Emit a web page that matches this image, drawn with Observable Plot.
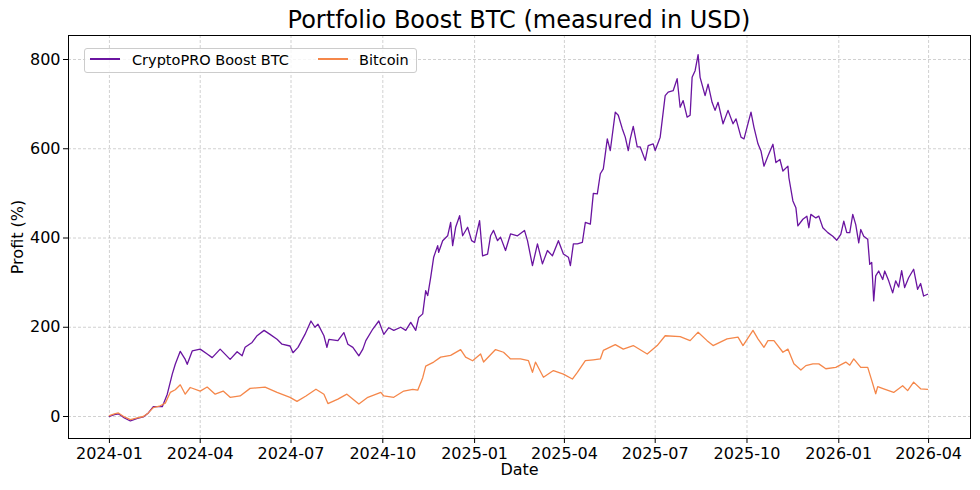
<!DOCTYPE html>
<html>
<head>
<meta charset="utf-8">
<script src="https://cdn.jsdelivr.net/npm/d3@7"></script>
<script src="https://cdn.jsdelivr.net/npm/@observablehq/plot@0.6"></script>
<style>
  html, body { margin: 0; padding: 0; background: #fff; }
  #wrap { position: relative; width: 980px; height: 490px; font-family: "DejaVu Sans", sans-serif; }
  #title { box-sizing: content-box; margin-left: 68px; width: 902px; height: 27px; line-height: 27px; padding-top: 7px;
           text-align: center; font-size: 24px; color: #000; white-space: nowrap; }
  #legend { position: absolute; left: 84px; top: 48px; width: 331px; height: 23px; border: 1px solid #cccccc;
            border-radius: 3px; background: rgba(255,255,255,0.8); font-size: 14.5px; }
  .sw { position: absolute; top: 9px; width: 30px; height: 1.5px; }
  .lt { position: absolute; top: 2px; line-height: 18px; white-space: nowrap; color: #000; }
</style>
</head>
<body>
<div id="wrap">
  <div id="title"></div>
  <div id="chart"></div>
  <div id="legend"></div>
</div>
<script>
const titleText = "Portfolio Boost BTC (measured in USD)";
const seriesNames = ["CryptoPRO Boost BTC", "Bitcoin"];
const seriesColors = ["#6a14a0", "#f5874a"];
const xLabel = "Date";
const yLabel = "Profit (%)";

const boostDates = [
"2024-01-01","2024-01-06","2024-01-10","2024-01-16","2024-01-22","2024-01-29","2024-02-04","2024-02-09","2024-02-14","2024-02-23",
"2024-02-28","2024-03-04","2024-03-07","2024-03-12","2024-03-17","2024-03-19","2024-03-24","2024-04-01","2024-04-08","2024-04-13",
"2024-04-21","2024-05-01","2024-05-08","2024-05-13","2024-05-16","2024-05-23","2024-05-28","2024-06-04","2024-06-10","2024-06-17",
"2024-06-22","2024-06-30","2024-07-03","2024-07-08","2024-07-15","2024-07-21","2024-07-25","2024-07-28","2024-08-03","2024-08-06",
"2024-08-08","2024-08-17","2024-08-23","2024-08-27","2024-09-01","2024-09-07","2024-09-11","2024-09-14","2024-09-21","2024-09-27",
"2024-10-02","2024-10-07","2024-10-12","2024-10-19","2024-10-24","2024-10-29","2024-11-03","2024-11-06","2024-11-10","2024-11-13",
"2024-11-15","2024-11-18","2024-11-21","2024-11-25","2024-11-26","2024-11-30","2024-12-05","2024-12-08","2024-12-10","2024-12-13",
"2024-12-17","2024-12-20","2024-12-25","2024-12-29","2025-01-01","2025-01-06","2025-01-09","2025-01-14","2025-01-17","2025-01-20",
"2025-01-24","2025-01-27","2025-02-01","2025-02-06","2025-02-13","2025-02-20","2025-02-23","2025-02-28","2025-03-05","2025-03-10",
"2025-03-15","2025-03-20","2025-03-26","2025-03-31","2025-04-05","2025-04-07","2025-04-10","2025-04-14","2025-04-19","2025-04-22",
"2025-04-27","2025-04-30","2025-05-04","2025-05-07","2025-05-10","2025-05-14","2025-05-17","2025-05-22","2025-05-25","2025-05-29",
"2025-06-01","2025-06-04","2025-06-06","2025-06-09","2025-06-13","2025-06-16","2025-06-21","2025-06-24","2025-06-29","2025-07-01",
"2025-07-06","2025-07-11","2025-07-14","2025-07-19","2025-07-23","2025-07-26","2025-07-29","2025-08-02","2025-08-05","2025-08-07",
"2025-08-10","2025-08-13","2025-08-15","2025-08-20","2025-08-23","2025-08-27","2025-08-30","2025-09-02","2025-09-07","2025-09-12",
"2025-09-17","2025-09-20","2025-09-25","2025-09-28","2025-10-05","2025-10-08","2025-10-12","2025-10-15","2025-10-18","2025-10-22",
"2025-10-27","2025-10-30","2025-11-03","2025-11-06","2025-11-11","2025-11-12","2025-11-16","2025-11-19","2025-11-21","2025-11-26",
"2025-11-30","2025-12-02","2025-12-04","2025-12-09","2025-12-12","2025-12-16","2025-12-21","2025-12-26","2025-12-30","2026-01-03",
"2026-01-06","2026-01-09","2026-01-12","2026-01-15","2026-01-18","2026-01-21","2026-01-23","2026-01-26","2026-01-30","2026-02-01",
"2026-02-03","2026-02-05","2026-02-07","2026-02-10","2026-02-14","2026-02-16","2026-02-20","2026-02-24","2026-02-27","2026-03-02",
"2026-03-05","2026-03-08","2026-03-12","2026-03-17","2026-03-21","2026-03-24","2026-03-27","2026-03-31"
];
const boostValues = [
0,4,6,-3,-10,-4,-1,8,22,22,
50,95,117,146,128,117,147,151,140,132,
151,128,145,136,155,166,181,193,184,173,
162,158,143,155,184,214,200,207,181,155,
173,170,188,162,155,136,151,170,196,214,
184,199,193,200,193,211,193,222,230,282,
271,312,357,383,368,394,405,435,383,424,
450,405,424,394,390,439,360,364,405,417,
394,402,372,409,405,417,394,338,387,342,
372,360,394,364,357,338,387,387,390,435,
431,500,499,544,555,622,596,682,675,645,
626,596,622,650,604,604,574,607,611,596,
626,719,727,730,757,693,708,671,675,760,
775,811,760,719,745,704,686,704,656,686,
656,667,626,622,682,648,611,595,561,584,
610,569,576,550,561,535,483,468,427,442,
449,423,453,445,449,423,412,404,395,408,
438,412,412,453,430,389,419,404,397,341,
345,259,315,326,307,326,304,277,304,290,
327,289,311,330,285,298,270,274
];

const btcDates = [
"2024-01-01","2024-01-06","2024-01-10","2024-01-16","2024-01-22","2024-01-29","2024-02-04","2024-02-09","2024-02-14","2024-02-21",
"2024-02-26","2024-03-02","2024-03-07","2024-03-12","2024-03-17","2024-03-22","2024-04-01","2024-04-08","2024-04-16","2024-04-24",
"2024-05-01","2024-05-11","2024-05-21","2024-06-05","2024-06-17","2024-06-30","2024-07-07","2024-07-16","2024-07-26","2024-08-03",
"2024-08-07","2024-08-17","2024-08-26","2024-09-07","2024-09-16","2024-09-29","2024-10-02","2024-10-12","2024-10-22","2024-10-31",
"2024-11-05","2024-11-10","2024-11-13","2024-11-21","2024-11-28","2024-12-08","2024-12-18","2024-12-23","2024-12-30","2025-01-07",
"2025-01-10","2025-01-22","2025-01-30","2025-02-06","2025-02-16","2025-02-24","2025-02-28","2025-03-03","2025-03-11","2025-03-21",
"2025-03-31","2025-04-09","2025-04-14","2025-04-22","2025-04-30","2025-05-07","2025-05-10","2025-05-22","2025-05-30","2025-06-09",
"2025-06-23","2025-07-03","2025-07-11","2025-07-26","2025-08-05","2025-08-13","2025-08-22","2025-08-28","2025-09-11","2025-09-22",
"2025-09-27","2025-10-07","2025-10-12","2025-10-18","2025-10-22","2025-10-28","2025-11-06","2025-11-11","2025-11-17","2025-11-24",
"2025-11-29","2025-12-06","2025-12-12","2025-12-19","2025-12-29","2026-01-08","2026-01-12","2026-01-16","2026-01-23","2026-01-30",
"2026-02-03","2026-02-07","2026-02-09","2026-02-15","2026-02-25","2026-03-06","2026-03-11","2026-03-17","2026-03-24","2026-03-31"
];
const btcValues = [
2,6,8,-1,-7,-3,0,8,20,24,
30,54,60,71,50,65,57,66,50,57,
43,46,63,66,54,43,34,46,61,50,
29,39,50,28,43,54,46,43,57,61,
59,87,113,122,133,137,150,133,125,140,
122,150,144,129,129,125,99,122,88,103,
95,84,99,125,127,129,148,161,151,159,
140,159,181,179,170,189,170,159,174,178,
159,193,174,155,170,170,144,151,118,104,
114,118,118,107,110,122,115,129,110,110,
81,51,67,62,54,69,58,77,62,61
];

const xTickDates = ["2024-01-01","2024-04-01","2024-07-01","2024-10-01","2025-01-01","2025-04-01","2025-07-01","2025-10-01","2026-01-01","2026-04-01"];
const yTickValues = [0, 200, 400, 600, 800];
const xDomain = ["2023-11-21", "2026-05-13"];
const yDomain = [-49.3, 853.8];

const boost = boostDates.map((d, i) => ({date: new Date(d), value: boostValues[i]}));
const btc = btcDates.map((d, i) => ({date: new Date(d), value: btcValues[i]}));
const xTicks = xTickDates.map(d => new Date(d));

document.getElementById("title").textContent = titleText;

const gridStyle = {stroke: "#b0b0b0", strokeOpacity: 0.65, strokeWidth: 0.9, strokeDasharray: "3,2"};

const chart = Plot.plot({
  width: 980,
  height: 456,
  marginTop: 1,
  marginBottom: 52,
  marginLeft: 68,
  marginRight: 10,
  style: {fontFamily: "DejaVu Sans, sans-serif", fontSize: "16px", background: "white", color: "black", overflow: "visible"},
  x: {type: "utc", domain: xDomain.map(d => new Date(d))},
  y: {domain: yDomain},
  marks: [
    Plot.gridX(xTicks, gridStyle),
    Plot.gridY(yTickValues, gridStyle),
    Plot.lineY(boost, {x: "date", y: "value", stroke: seriesColors[0], strokeWidth: 1.3}),
    Plot.lineY(btc, {x: "date", y: "value", stroke: seriesColors[1], strokeWidth: 1.3}),
    Plot.frame({stroke: "black", strokeWidth: 1}),
    Plot.axisX(xTicks, {tickFormat: d3.utcFormat("%Y-%m"), tickSize: 5, tickPadding: 4, fontSize: 16,
      label: xLabel, labelAnchor: "center", labelArrow: "none", labelOffset: 36}),
    Plot.axisY(yTickValues, {tickSize: 5, tickPadding: 3, fontSize: 16,
      label: yLabel, labelAnchor: "center", labelArrow: "none", labelOffset: 57})
  ]
});
document.getElementById("chart").appendChild(chart);

const legend = document.getElementById("legend");
const entries = [
  {name: seriesNames[0], color: seriesColors[0], swX: 5, txX: 47},
  {name: seriesNames[1], color: seriesColors[1], swX: 233, txX: 274}
];
for (const e of entries) {
  const sw = document.createElement("div");
  sw.className = "sw";
  sw.style.left = e.swX + "px";
  sw.style.background = e.color;
  legend.appendChild(sw);
  const t = document.createElement("div");
  t.className = "lt";
  t.style.left = e.txX + "px";
  t.textContent = e.name;
  legend.appendChild(t);
}
</script>
</body>
</html>
